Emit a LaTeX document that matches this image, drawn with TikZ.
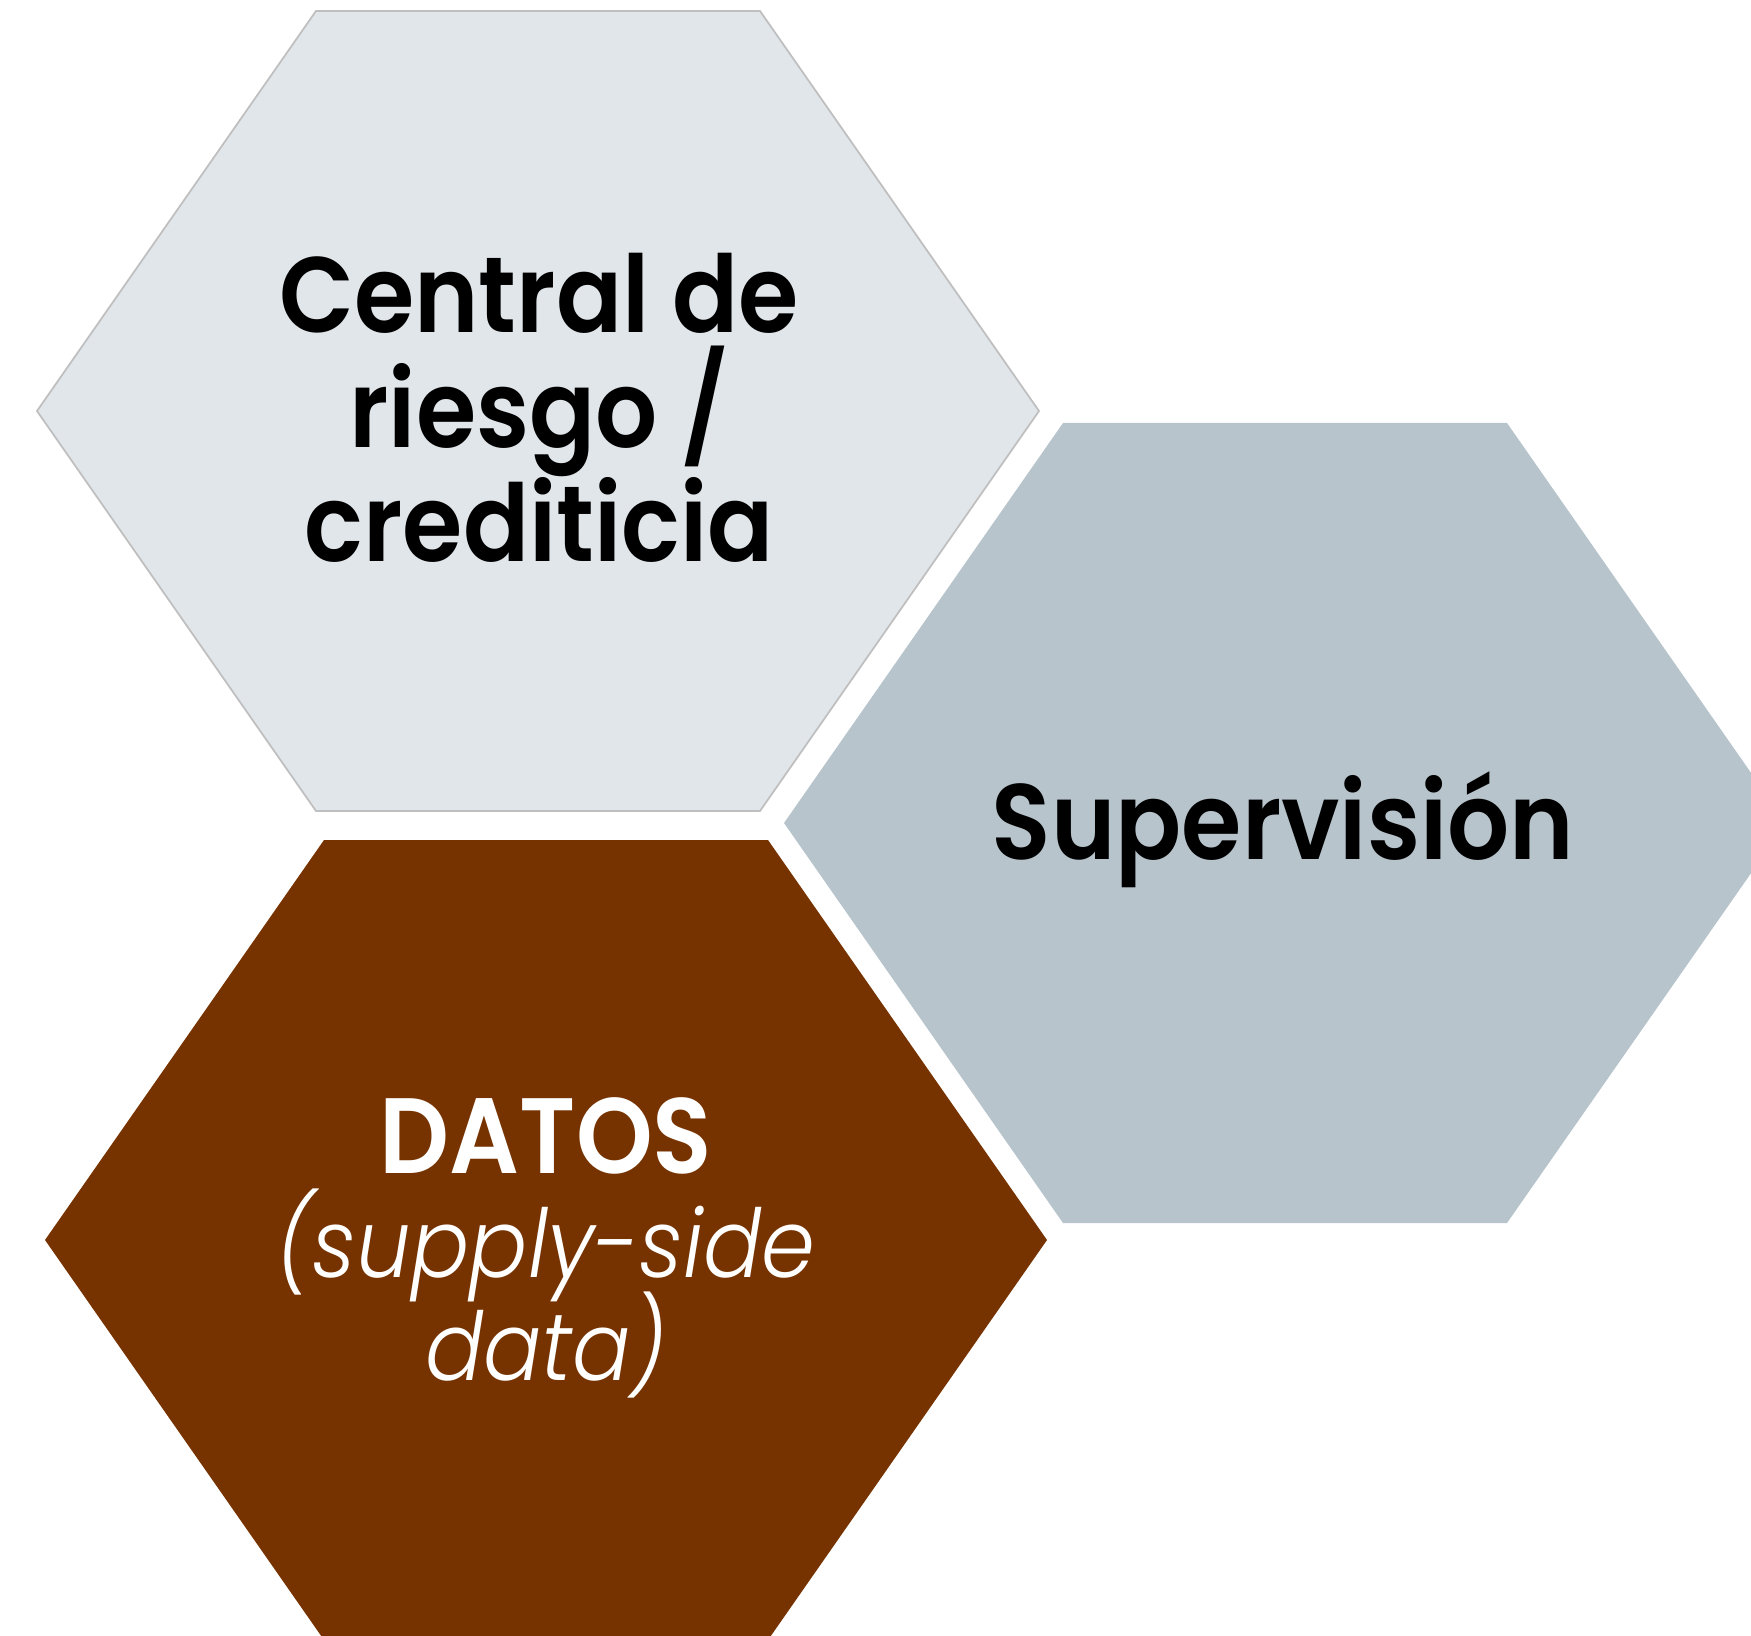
\documentclass[tikz,border=0pt]{standalone}
\usepackage{fontspec}
\setmainfont{Poppins}[BoldFont=Poppins SemiBold,ItalicFont=Poppins Light Italic,FakeStretch=0.91]
\usepackage{xcolor}
\definecolor{hexlight}{HTML}{E1E6EA}
\definecolor{hexedge}{HTML}{BFBFBF}
\definecolor{hexgray}{HTML}{B7C4CC}
\definecolor{hexbrown}{HTML}{763300}
\newcommand{\itlabel}{\mdseries\itshape\fontsize{27}{29.6}\selectfont}

\begin{document}
\begin{tikzpicture}[x=0.1mm,y=-0.1mm]
    \tikzstyle{hexlabel}=[align=center,inner sep=0pt,font=\bfseries\fontsize{30.5}{32.6}\selectfont]
    \tikzstyle{hexcredit}=[fill=hexlight,draw=hexedge,line width=0.5pt]
    \tikzstyle{hexsuper}=[fill=hexgray]
    \tikzstyle{hexdatos}=[fill=hexbrown]
    \useasboundingbox (0,0) rectangle (1751,1636);

    \coordinate (c1) at (538,411);
    \coordinate (c2) at (1285,823);
    \coordinate (c3) at (546,1240);

    \foreach \c/\sty in {c1/hexcredit, c2/hexsuper, c3/hexdatos} {
        \path[\sty,shift={(\c)}] (-222,-400) -- (222,-400) -- (501,0)
            -- (222,400) -- (-222,400) -- (-501,0) -- cycle;
    }

    \node[hexlabel] (credit) at (539,408) {Central de\\riesgo /\\crediticia};
    \node[hexlabel,anchor=base] (super) at (1283,859) {Supervisión};
    \node[hexlabel,text=white,font=\bfseries\fontsize{30.5}{29.6}\selectfont] (datos) at (546,1248)
        {DATOS\\\itlabel (supply-side\\[-4pt]\itlabel data)};
\end{tikzpicture}
\end{document}
